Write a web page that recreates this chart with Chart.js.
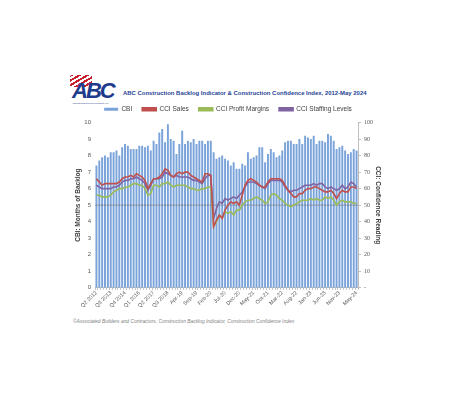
<!DOCTYPE html>
<html>
<head>
<meta charset="utf-8">
<script src="https://cdn.jsdelivr.net/npm/chart.js@4.4.1/dist/chart.umd.min.js"></script>
<style>
  body { margin: 0; background: #fff; font-family: "Liberation Sans", Arial, sans-serif; }
  #page { position: relative; width: 450px; height: 404px; overflow: hidden; }
  #logo { position: absolute; left: 66px; top: 74px; width: 52px; height: 32px; }
  #logo .stripes { position: absolute; left: 4px; top: 1px; width: 22px; height: 12px;
    background: repeating-linear-gradient(150deg, #c8202f 0 2px, #fff 2px 4px); border-radius: 2px; }
  #logo .abc { position: absolute; left: 6px; top: 4px; font: italic bold 22px "Liberation Sans", Arial, sans-serif;
    color: #1f3b8c; letter-spacing: -2px; }
  #logo .sub { position: absolute; left: 6px; top: 28px; font-size: 2px; color: #1f3b8c; white-space: nowrap; }
  #title { position: absolute; left: 123px; top: 90px; font: bold 5.95px "Liberation Sans", Arial, sans-serif;
    color: #1f3f95; white-space: nowrap; }
  #wrap { position: absolute; left: 72px; top: 96px; width: 312px; height: 213px; }
  #foot { position: absolute; left: 73px; top: 319px; font: italic 4.9px "Liberation Sans", Arial, sans-serif;
    color: #7f7f7f; white-space: nowrap; }
</style>
</head>
<body>
<div id="page">
  <div id="logo"><div class="stripes"></div><div class="abc">ABC</div><div class="sub">Associated Builders and Contractors, Inc.</div></div>
  <div id="title">ABC Construction Backlog Indicator &amp; Construction Confidence Index, 2012-May 2024</div>
  <div id="wrap"><canvas id="chart"></canvas></div>
  <div id="foot">©Associated Builders and Contractors, Construction Backlog Indicator, Construction Confidence Index</div>
</div>
<script>
// quarters up to 2018, then monthly
const labels = [
  "Q2 2012", "Q3 2012", "Q4 2012",
  "Q1 2013", "Q2 2013", "Q3 2013", "Q4 2013",
  "Q1 2014", "Q2 2014", "Q3 2014", "Q4 2014",
  "Q1 2015", "Q2 2015", "Q3 2015", "Q4 2015",
  "Q1 2016", "Q2 2016", "Q3 2016", "Q4 2016",
  "Q1 2017", "Q2 2017", "Q3 2017", "Q4 2017",
  "Q1 2018", "Q2 2018", "Q3 2018", "Q4 2018",
  "Jan-19", "Feb-19", "Mar-19", "Apr-19", "May-19", "Jun-19", "Jul-19", "Aug-19", "Sep-19", "Oct-19", "Nov-19", "Dec-19",
  "Jan-20", "Feb-20", "Mar-20", "Apr-20", "May-20", "Jun-20", "Jul-20", "Aug-20", "Sep-20", "Oct-20", "Nov-20", "Dec-20",
  "Jan-21", "Feb-21", "Mar-21", "Apr-21", "May-21", "Jun-21", "Jul-21", "Aug-21", "Sep-21", "Oct-21", "Nov-21", "Dec-21",
  "Jan-22", "Feb-22", "Mar-22", "Apr-22", "May-22", "Jun-22", "Jul-22", "Aug-22", "Sep-22", "Oct-22", "Nov-22", "Dec-22",
  "Jan-23", "Feb-23", "Mar-23", "Apr-23", "May-23", "Jun-23", "Jul-23", "Aug-23", "Sep-23", "Oct-23", "Nov-23", "Dec-23",
  "Jan-24", "Feb-24", "Mar-24", "Apr-24", "May-24"
];

// CBI, months of backlog (left axis)
const cbi = [
  7.4, 7.7, 7.9, 8.0, 7.9, 8.2, 8.2, 8.3, 8.0, 8.5, 8.7, 8.6, 8.4, 8.4, 8.4, 8.6,
  8.6, 8.5, 8.6, 8.3, 8.9, 8.7, 9.4, 9.6, 8.8, 9.9, 9.0,
  8.9, 8.1, 8.7, 9.5, 8.7, 8.9, 8.8, 9.0, 8.7, 8.9, 8.9, 8.7,
  8.9, 8.9, 8.2, 7.8, 7.9, 8.0, 7.8, 7.7, 7.4, 7.6, 7.2, 7.2,
  7.5, 7.4, 8.2, 7.8, 7.9, 8.0, 8.5, 8.5, 7.6, 8.1, 8.4, 8.2,
  7.9, 8.0, 8.3, 8.8, 8.9, 8.9, 8.7, 8.7, 9.0, 8.7, 9.2, 9.1,
  9.0, 9.2, 8.7, 8.9, 8.9, 8.8, 9.3, 9.2, 8.9, 8.4, 8.5, 8.6,
  8.3, 8.1, 8.2, 8.4, 8.3
];

// CCI readings (right axis)
const cciSales = [
  66, 64, 62, 63, 63, 63, 63, 63, 64, 66, 67, 67, 68, 67, 69, 68,
  67, 65, 60, 63, 66, 66, 67, 69, 72, 71, 68,
  67, 69, 70, 69, 70, 70, 68, 67, 66, 65, 64, 69,
  69, 68, 37, 41, 44, 42, 47, 50, 52, 51, 52, 50,
  56, 62, 65, 66, 65, 64, 62, 61, 61, 64, 66, 66,
  66, 66, 65, 62, 59, 57, 55, 55, 57, 57, 59, 60,
  60, 61, 61, 60, 59, 58, 58, 59, 57, 54, 57, 59,
  58, 58, 61, 61, 60
];
const cciProfit = [
  56, 56, 55, 55, 55, 56, 58, 59, 60, 60, 61, 61, 62, 63, 63, 62,
  62, 60, 56, 57, 62, 62, 61, 63, 63, 64, 62,
  61, 62, 62, 62, 62, 61, 60, 60, 59, 59, 60, 60,
  61, 61, 37, 40, 44, 42, 46, 45, 46, 44, 47, 47,
  50, 52, 53, 53, 54, 55, 54, 53, 51, 52, 56, 57,
  56, 54, 53, 51, 50, 49, 50, 51, 52, 53, 53, 53,
  54, 53, 54, 53, 53, 55, 54, 55, 53, 50, 52, 53,
  52, 52, 52, 51, 51
];
const cciStaffing = [
  62, 61, 60, 60, 60, 60, 61, 61, 62, 64, 65, 65, 66, 66, 67, 66,
  65, 63, 59, 62, 66, 66, 66, 67, 70, 69, 68,
  67, 68, 67, 67, 67, 67, 66, 65, 65, 64, 63, 66,
  68, 68, 42, 48, 52, 51, 54, 53, 54, 55, 54, 56,
  58, 61, 64, 64, 64, 63, 62, 61, 60, 63, 65, 65,
  65, 65, 64, 61, 59, 58, 59, 59, 60, 61, 62, 62,
  62, 63, 62, 63, 63, 61, 60, 61, 60, 59, 60, 62,
  60, 61, 64, 63, 61
];

const gray = "#595959";

// grey 50-line drawn over the bars, under the CCI lines
const threshold = {
  id: "threshold",
  afterDatasetDraw(chart, args) {
    if (args.index !== 0) return;
    const { ctx, chartArea } = chart;
    const y = chart.scales.y2.getPixelForValue(50);
    ctx.save();
    ctx.strokeStyle = "rgba(110,110,110,0.55)";
    ctx.lineWidth = 1;
    ctx.beginPath();
    ctx.moveTo(chartArea.left, y);
    ctx.lineTo(chartArea.right, y);
    ctx.stroke();
    ctx.restore();
  }
};

const line = (label, data, color) => ({
  type: "line", label, data, yAxisID: "y2",
  borderColor: color, backgroundColor: color,
  borderWidth: 1.6, pointRadius: 0, tension: 0, fill: false
});

const shownTick = i => (i % 5 === 0 && i < 90) || i === labels.length - 1;

new Chart(document.querySelector("#chart"), {
  data: {
    labels,
    datasets: [
      { type: "bar", label: "CBI", data: cbi, yAxisID: "y",
        backgroundColor: "#7aa3da", borderWidth: 0,
        categoryPercentage: 1, barPercentage: 0.68, order: 5 },
      line("CCI Sales", cciSales, "#c0504d"),
      line("CCI Profit Margins", cciProfit, "#9bbb59"),
      line("CCI Staffing Levels", cciStaffing, "#8064a2"),
    ],
  },
  plugins: [threshold],
  options: {
    animation: false,
    responsive: true,
    maintainAspectRatio: false,
    plugins: {
      tooltip: { enabled: false },
      legend: {
        position: "top",
        labels: {
          boxWidth: 14, boxHeight: 3, padding: 10, color: "#404040",
          font: { family: "Liberation Sans", size: 6.5 },
          sort: (a, b) => a.datasetIndex - b.datasetIndex
        }
      }
    },
    scales: {
      x: {
        // rotated labels may hang past the plot's left edge, like the original
        afterFit(scale) { scale.paddingLeft = 0; scale.paddingRight = 0; },
        grid: { display: true, drawOnChartArea: false, drawTicks: true, tickLength: 2, color: "#bfbfbf" },
        border: { display: true, color: "#bfbfbf" },
        ticks: {
          autoSkip: false, maxRotation: 45, minRotation: 45, padding: 0,
          color: gray, font: { family: "Liberation Sans", size: 5.4 },
          callback(v, i) { return shownTick(i) ? this.getLabelForValue(v) : ""; }
        }
      },
      y: {
        position: "left", min: 0, max: 10,
        afterFit(scale) { scale.width = 23; },
        grid: { display: false, drawTicks: false },
        border: { display: false },
        ticks: { stepSize: 1, color: gray, padding: 4, font: { family: "Liberation Sans", size: 6 } },
        title: { display: true, text: "CBI: Months of Backlog", color: "#404040", padding: 2,
          font: { family: "Liberation Sans", size: 6.5, weight: "bold" } }
      },
      y2: {
        position: "right", min: 0, max: 100,
        afterFit(scale) { scale.width = 26; },
        grid: { display: true, drawOnChartArea: false, tickLength: 3, color: "#bfbfbf" },
        border: { display: true, color: "#bfbfbf" },
        ticks: { stepSize: 10, color: gray, padding: 3, font: { family: "Liberation Serif", size: 6 },
          callback: v => v === 0 ? "-" : v },
        title: { display: true, text: "CCI: Confidence Reading", color: "#404040", padding: 2,
          font: { family: "Liberation Sans", size: 6.5, weight: "bold" } }
      }
    }
  }
});
</script>
</body>
</html>
